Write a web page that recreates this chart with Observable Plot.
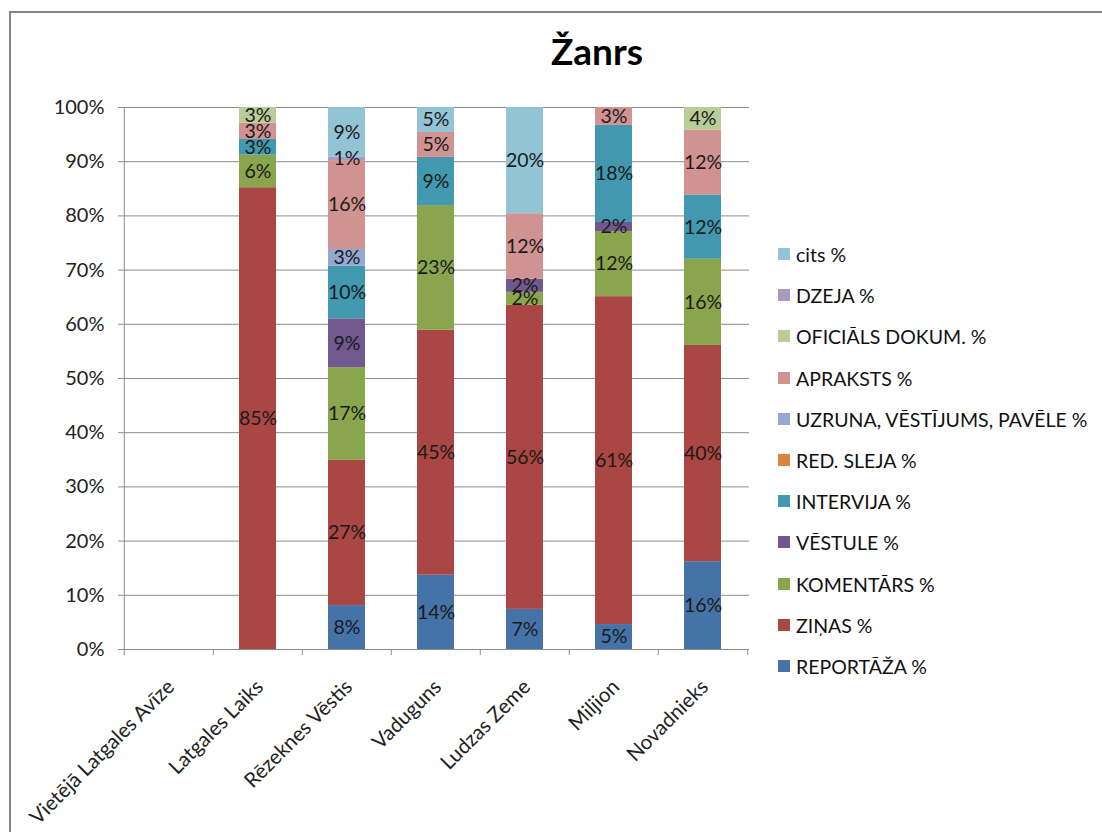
<!DOCTYPE html>
<html>
<head>
<meta charset="utf-8">
<script src="https://cdn.jsdelivr.net/npm/d3@7"></script>
<script src="https://cdn.jsdelivr.net/npm/@observablehq/plot@0.6"></script>
<style>
  html, body { margin: 0; padding: 0; background: #fff; }
  body { width: 1102px; height: 832px; overflow: hidden; position: relative; font-family: Lato, "Open Sans", sans-serif; }
  #frame { position: absolute; left: 9px; top: 11px; width: 1200px; height: 900px; border-left: 2px solid #868686; border-top: 2px solid #868686; }
  #title { position: absolute; left: 0; width: 1194px; top: 29px; line-height: 44px; text-align: center; font-size: 37px; font-weight: bold; color: #000; }
  #chart { position: absolute; left: 0; top: 0; }
  #legend { position: absolute; left: 778px; top: 234px; }
  .li { height: 41.2px; display: flex; align-items: center; font-size: 19.5px; color: #111; position: relative; white-space: nowrap; }
  .li .sw { width: 12px; height: 12px; margin-right: 6px; margin-top: -1px; }
</style>
</head>
<body>
<div id="frame"></div>
<div id="title">Žanrs</div>
<div id="chart"></div>
<div id="legend"></div>
<script>
const categories = ["Vietējā Latgales Avīze", "Latgales Laiks", "Rēzeknes Vēstis", "Vaduguns", "Ludzas Zeme", "Miljion", "Novadnieks"];
const seriesNames = ["REPORTĀŽA %", "ZIŅAS %", "KOMENTĀRS %", "VĒSTULE %", "INTERVIJA %", "RED. SLEJA %", "UZRUNA, VĒSTĪJUMS, PAVĒLE %", "APRAKSTS %", "OFICIĀLS DOKUM. %", "DZEJA %", "cits %"];
const seriesColors = ["#4572A7", "#AA4643", "#89A54E", "#71588F", "#4198AF", "#DB843D", "#93A9CF", "#D19392", "#B9CD96", "#A99BBD", "#92C4D6"];

const reportaza = [0, 0, 8.1, 13.7, 7.4, 4.6, 16.2];
const zinas     = [0, 85.2, 26.8, 45.2, 56.1, 60.5, 39.9];
const komentars = [0, 6.0, 17.1, 23.0, 2.4, 12.0, 15.9];
const vestule   = [0, 0, 9.0, 0, 2.4, 1.7, 0];
const intervija = [0, 2.9, 9.7, 8.9, 0, 17.9, 11.8];
const redSleja  = [0, 0, 0, 0, 0, 0, 0];
const uzruna    = [0, 0, 3.1, 0, 0, 0, 0];
const apraksts  = [0, 3.0, 16.4, 4.6, 12.1, 3.3, 12.0];
const oficials  = [0, 2.9, 0, 0, 0, 0, 4.2];
const dzeja     = [0, 0, 0.6, 0, 0, 0, 0];
const cits      = [0, 0, 9.2, 4.6, 19.6, 0, 0];

const yTicks = [0, 0.1, 0.2, 0.3, 0.4, 0.5, 0.6, 0.7, 0.8, 0.9, 1.0];

const seriesValues = [reportaza, zinas, komentars, vestule, intervija, redSleja, uzruna, apraksts, oficials, dzeja, cits];
const data = [];
seriesNames.forEach((s, si) => {
  categories.forEach((c, ci) => {
    data.push({category: c, series: s, value: seriesValues[si][ci] / 100});
  });
});
const labelData = data.filter(d => d.value > 0);

const font = "Lato, 'Open Sans', sans-serif";
const W = 1102, H = 832;
const mL = 123, mR = 353, mT = 107, mB = 183;
const step = (W - mL - mR) / categories.length;

const plot = Plot.plot({
  width: W,
  height: H,
  marginLeft: mL,
  marginRight: mR,
  marginTop: mT,
  marginBottom: mB,
  style: {fontFamily: font, fontSize: "19px", color: "#222", background: "transparent", overflow: "visible"},
  x: {domain: categories, paddingInner: 0.58, paddingOuter: 0.29, label: null},
  y: {domain: [0, 1], label: null},
  color: {domain: seriesNames, range: seriesColors},
  marks: [
    Plot.ruleY(yTicks.slice(1), {stroke: "#8c8c8c", strokeWidth: 1}),
    Plot.barY(data, {x: "category", y: "value", fill: "series", order: seriesNames}),
    Plot.text(labelData, Plot.stackY({x: "category", y: "value", z: "series", order: seriesNames, text: d => Math.round(d.value * 100) + "%", fill: "#1a1a1a", fontSize: 19.5})),
    Plot.ruleX([0], {x: () => categories[0], dx: -step / 2, stroke: "#8c8c8c"}),
    Plot.ruleY([0], {stroke: "#8c8c8c"}),
    Plot.ruleX(categories, {x: d => d, dx: -step / 2, y1: 0, y2: 0, insetBottom: -6, stroke: "#8c8c8c"}),
    Plot.ruleX([categories[categories.length - 1]], {x: d => d, dx: step / 2, y1: 0, y2: 0, insetBottom: -6, stroke: "#8c8c8c"}),
    Plot.axisY({ticks: yTicks, tickFormat: d => Math.round(d * 100) + "%", tickSize: 5, tickPadding: 14, stroke: "#8c8c8c", fill: "#222", fontSize: 20, label: null}),
    Plot.axisX({tickSize: 0, tickRotate: -45, tickPadding: 34, dx: 2, fill: "#222", fontSize: 20.5, label: null})
  ]
});
document.getElementById("chart").appendChild(plot);

const legend = document.getElementById("legend");
for (let i = seriesNames.length - 1; i >= 0; i--) {
  const row = document.createElement("div");
  row.className = "li";
  const sw = document.createElement("span");
  sw.className = "sw";
  sw.style.background = seriesColors[i];
  const t = document.createElement("span");
  t.textContent = seriesNames[i];
  row.appendChild(sw);
  row.appendChild(t);
  legend.appendChild(row);
}
</script>
</body>
</html>
